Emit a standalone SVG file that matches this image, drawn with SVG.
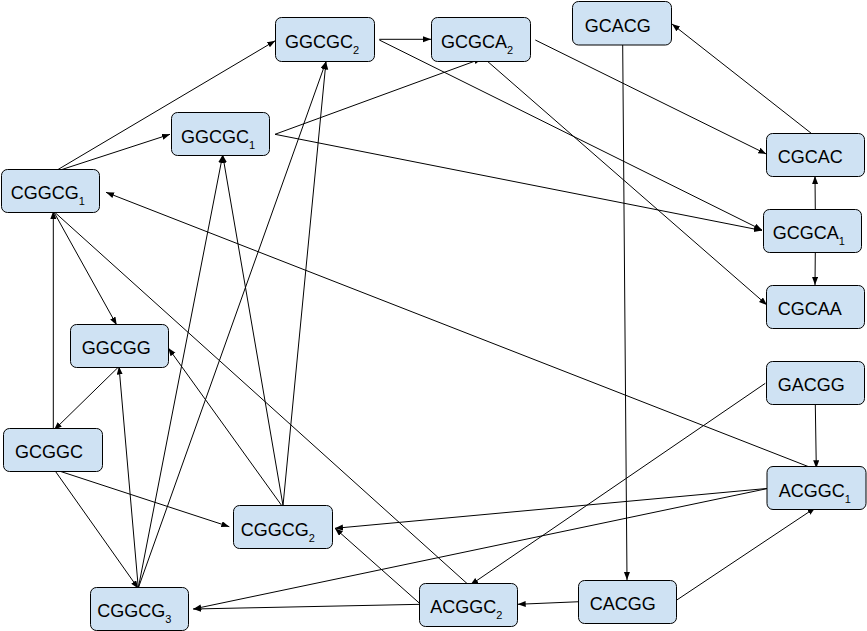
<svg xmlns="http://www.w3.org/2000/svg" width="867" height="631" viewBox="0 0 867 631">
<defs>
<marker id="ah" markerUnits="userSpaceOnUse" markerWidth="10" markerHeight="8" refX="8" refY="3" orient="auto">
<path d="M0,0 L8,3 L0,6 z" fill="#000"/>
</marker>
<style>
.n rect{fill:#cfe2f3;stroke:#000;stroke-width:1}
.n text{font-family:"Liberation Sans",Arial,sans-serif;font-size:18px;fill:#000}
.n tspan{font-size:11px}
#edges line{stroke:#000;stroke-width:1;marker-end:url(#ah)}
</style>
</defs>
<rect width="867" height="631" fill="#fff"/>
<g id="edges">
<line x1="53.3" y1="172.3" x2="275.3" y2="40.7"/>
<line x1="53.3" y1="172.3" x2="170" y2="134.3"/>
<line x1="379.3" y1="39.3" x2="431" y2="39.3"/>
<line x1="379.3" y1="40" x2="762" y2="230"/>
<line x1="275" y1="134.3" x2="762" y2="230.5"/>
<line x1="275" y1="134.3" x2="482" y2="58.5"/>
<line x1="484" y1="58.3" x2="767" y2="305"/>
<line x1="535.3" y1="40" x2="766.3" y2="154"/>
<line x1="814.7" y1="136" x2="672" y2="24"/>
<line x1="815.3" y1="210.7" x2="815" y2="176"/>
<line x1="815.3" y1="252.3" x2="815" y2="285"/>
<line x1="622.7" y1="45" x2="627" y2="580"/>
<line x1="815.3" y1="404.3" x2="816.3" y2="468.3"/>
<line x1="765.3" y1="383.3" x2="470.3" y2="585"/>
<line x1="812.7" y1="468.3" x2="106" y2="192.3"/>
<line x1="768.7" y1="488.3" x2="335" y2="528.3"/>
<line x1="768.7" y1="488.3" x2="193.3" y2="609"/>
<line x1="675.3" y1="601" x2="815.3" y2="507.7"/>
<line x1="579.7" y1="601.7" x2="517.7" y2="604.3"/>
<line x1="420.7" y1="604.3" x2="193.3" y2="609"/>
<line x1="420.7" y1="604.3" x2="335" y2="528.3"/>
<line x1="468.7" y1="585" x2="53.3" y2="211" style="marker-end:none"/>
<line x1="53.3" y1="430" x2="53.3" y2="211"/>
<line x1="53.3" y1="211" x2="116.7" y2="325"/>
<line x1="119" y1="366.5" x2="54" y2="430"/>
<line x1="138.3" y1="588" x2="119" y2="366.5"/>
<line x1="54" y1="469.3" x2="229.3" y2="526.7"/>
<line x1="54" y1="469.3" x2="138.3" y2="588.5"/>
<line x1="138.3" y1="588" x2="222.7" y2="155"/>
<line x1="138.3" y1="588" x2="326" y2="61.5"/>
<line x1="283" y1="505.5" x2="326" y2="61.5"/>
<line x1="282" y1="506" x2="168.3" y2="348"/>
<line x1="283" y1="505.5" x2="222.7" y2="155"/>
</g>
<g id="GGCGC2" class="n"><rect x="275.5" y="17.5" width="99" height="44" rx="6"/><text x="285" y="48.3">GGCGC<tspan dy="6">2</tspan></text></g>
<g id="GCGCA2" class="n"><rect x="431.5" y="17.5" width="99" height="44" rx="6"/><text x="441" y="48.3">GCGCA<tspan dy="6">2</tspan></text></g>
<g id="GCACG" class="n"><rect x="572.5" y="1.5" width="99" height="43.5" rx="6"/><text x="584.7" y="32.3">GCACG</text></g>
<g id="GGCGC1" class="n"><rect x="171.5" y="112.5" width="98" height="43" rx="6"/><text x="181" y="142.7">GGCGC<tspan dy="6">1</tspan></text></g>
<g id="CGGCG1" class="n"><rect x="1.5" y="169.5" width="98" height="43" rx="6"/><text x="10.7" y="199.3">CGGCG<tspan dy="6">1</tspan></text></g>
<g id="CGCAC" class="n"><rect x="766.5" y="133.5" width="98" height="43" rx="6"/><text x="777.7" y="163.3">CGCAC</text></g>
<g id="GCGCA1" class="n"><rect x="763.5" y="209.5" width="98" height="43" rx="6"/><text x="772.7" y="239.3">GCGCA<tspan dy="6">1</tspan></text></g>
<g id="CGCAA" class="n"><rect x="766.5" y="285.5" width="98" height="43" rx="6"/><text x="777.7" y="315">CGCAA</text></g>
<g id="GGCGG" class="n"><rect x="70.5" y="324.5" width="98" height="43" rx="6"/><text x="81.7" y="354.3">GGCGG</text></g>
<g id="GCGGC" class="n"><rect x="3.5" y="428.5" width="99" height="43" rx="6"/><text x="15" y="457.7">GCGGC</text></g>
<g id="GACGG" class="n"><rect x="766.5" y="361.5" width="98" height="43" rx="6"/><text x="777.7" y="390.7">GACGG</text></g>
<g id="ACGGC1" class="n"><rect x="767" y="466.5" width="99" height="43" rx="6"/><text x="778.7" y="496.7">ACGGC<tspan dy="6">1</tspan></text></g>
<g id="CGGCG2" class="n"><rect x="233.5" y="505.5" width="99" height="43" rx="6"/><text x="240.7" y="535.7">CGGCG<tspan dy="6">2</tspan></text></g>
<g id="CGGCG3" class="n"><rect x="90.5" y="587.5" width="98" height="43" rx="6"/><text x="97.3" y="617.3">CGGCG<tspan dy="6">3</tspan></text></g>
<g id="ACGGC2" class="n"><rect x="419.5" y="583.5" width="98" height="43" rx="6"/><text x="430.3" y="613.3">ACGGC<tspan dy="6">2</tspan></text></g>
<g id="CACGG" class="n"><rect x="578.5" y="580.5" width="98" height="43" rx="6"/><text x="589.7" y="610">CACGG</text></g>
</svg>
